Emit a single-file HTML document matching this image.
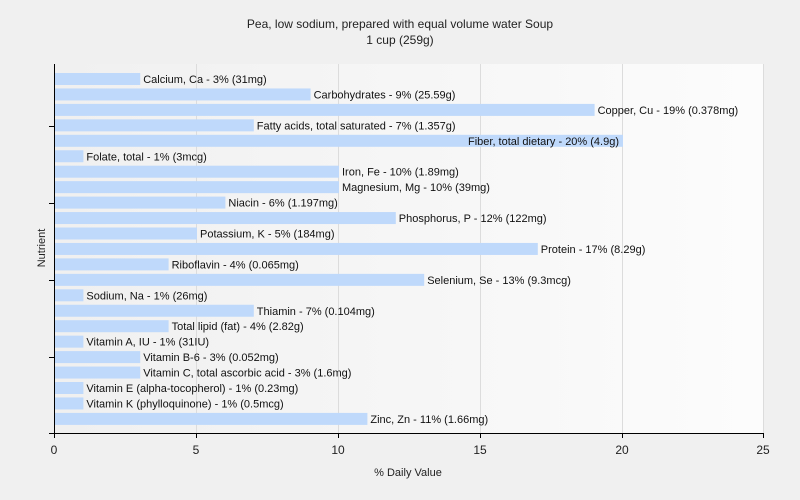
<!DOCTYPE html>
<html><head><meta charset="utf-8"><style>body{margin:0;background:#f0f0f0}svg{display:block;font-family:"Liberation Sans",sans-serif}</style></head><body>
<svg width="800" height="500" xmlns="http://www.w3.org/2000/svg">
<defs><linearGradient id="g" x1="0" x2="1" y1="0" y2="0"><stop offset="0" stop-color="#f0f0f0"/><stop offset="1" stop-color="#fcfcfc"/></linearGradient></defs>
<rect width="800" height="500" fill="#f0f0f0"/>
<rect x="54" y="64" width="710" height="369" fill="url(#g)"/>
<g stroke="#dcdcdc" stroke-width="1">
<line x1="196.5" y1="64" x2="196.5" y2="433"/><line x1="338.5" y1="64" x2="338.5" y2="433"/><line x1="480.5" y1="64" x2="480.5" y2="433"/><line x1="622.5" y1="64" x2="622.5" y2="433"/><line x1="763.5" y1="64" x2="763.5" y2="433"/>
</g>
<text x="400" y="28" font-size="12" text-anchor="middle" fill="#222">Pea, low sodium, prepared with equal volume water Soup</text>
<text x="400" y="44" font-size="12" text-anchor="middle" fill="#222">1 cup (259g)</text>
<g fill="#bfd9fb" id="bars"></g>
<g font-size="11" fill="#111" id="labels"></g>
<g stroke="#000" stroke-width="1">
<line x1="54.5" y1="64" x2="54.5" y2="434"/><line x1="49" y1="433.5" x2="764" y2="433.5"/>
<line x1="49" y1="126.5" x2="54" y2="126.5"/><line x1="49" y1="203.5" x2="54" y2="203.5"/><line x1="49" y1="280.5" x2="54" y2="280.5"/><line x1="49" y1="357.5" x2="54" y2="357.5"/>
<line x1="54.5" y1="433" x2="54.5" y2="438"/><line x1="196.5" y1="433" x2="196.5" y2="438"/><line x1="338.5" y1="433" x2="338.5" y2="438"/><line x1="480.5" y1="433" x2="480.5" y2="438"/><line x1="622.5" y1="433" x2="622.5" y2="438"/><line x1="763.5" y1="433" x2="763.5" y2="438"/>
</g>
<g font-size="12" fill="#222" text-anchor="middle">
<text x="54" y="454">0</text><text x="196" y="454">5</text><text x="338" y="454">10</text><text x="480" y="454">15</text><text x="622" y="454">20</text><text x="763" y="454">25</text>
</g>
<text x="408" y="476" font-size="11" text-anchor="middle" fill="#222">% Daily Value</text>
<text transform="translate(45,248) rotate(-90)" font-size="11" text-anchor="middle" fill="#222">Nutrient</text>
<script>
var d=[["Calcium, Ca - 3% (31mg)",3],["Carbohydrates - 9% (25.59g)",9],["Copper, Cu - 19% (0.378mg)",19],["Fatty acids, total saturated - 7% (1.357g)",7],["Fiber, total dietary - 20% (4.9g)",20],["Folate, total - 1% (3mcg)",1],["Iron, Fe - 10% (1.89mg)",10],["Magnesium, Mg - 10% (39mg)",10],["Niacin - 6% (1.197mg)",6],["Phosphorus, P - 12% (122mg)",12],["Potassium, K - 5% (184mg)",5],["Protein - 17% (8.29g)",17],["Riboflavin - 4% (0.065mg)",4],["Selenium, Se - 13% (9.3mcg)",13],["Sodium, Na - 1% (26mg)",1],["Thiamin - 7% (0.104mg)",7],["Total lipid (fat) - 4% (2.82g)",4],["Vitamin A, IU - 1% (31IU)",1],["Vitamin B-6 - 3% (0.052mg)",3],["Vitamin C, total ascorbic acid - 3% (1.6mg)",3],["Vitamin E (alpha-tocopherol) - 1% (0.23mg)",1],["Vitamin K (phylloquinone) - 1% (0.5mcg)",1],["Zinc, Zn - 11% (1.66mg)",11]];
var ns="http://www.w3.org/2000/svg",b=document.getElementById("bars"),l=document.getElementById("labels");
d.forEach(function(e,i){var y=73+i*15.45,w=e[1]*28.4;var r=document.createElementNS(ns,"rect");r.setAttribute("x",55);r.setAttribute("y",y);r.setAttribute("width",w);r.setAttribute("height",12);b.appendChild(r);
var t=document.createElementNS(ns,"text");t.textContent=e[0];t.setAttribute("y",y+10);if(e[1]==20){t.setAttribute("x",54+w-3);t.setAttribute("text-anchor","end");}else t.setAttribute("x",54+w+4);l.appendChild(t);});
</script>
</svg>
</body></html>
